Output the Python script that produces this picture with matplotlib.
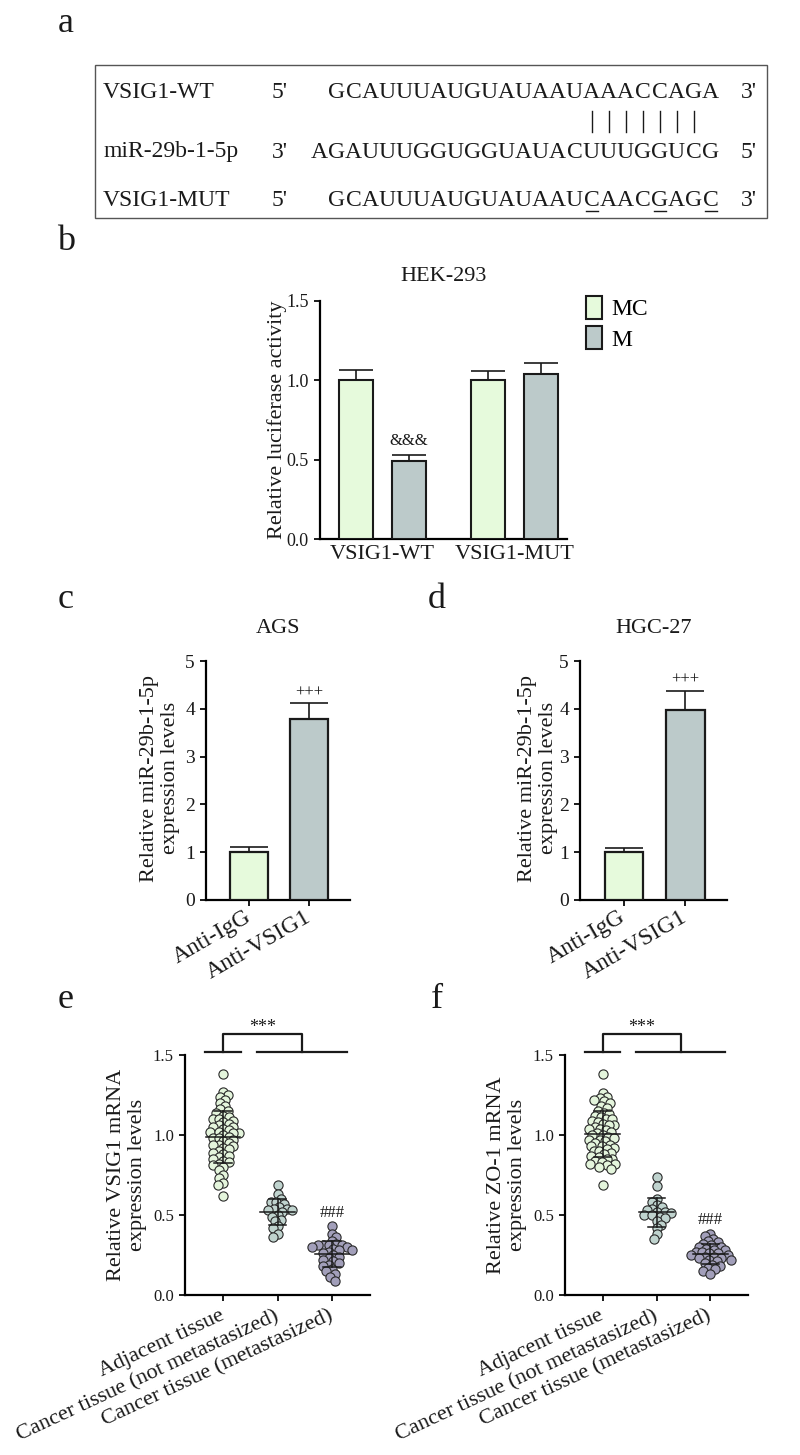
import numpy as np
import matplotlib.pyplot as plt
from matplotlib.patches import Patch, Rectangle

plt.rcParams['font.family'] = ['Liberation Serif', 'DejaVu Serif']

W, H = 800, 1455

# panel a
seq_names = ['VSIG1-WT', 'miR-29b-1-5p', 'VSIG1-MUT']
seq_left = ["5'", "3'", "5'"]
seq_right = ["3'", "5'", "3'"]
sequences = ['GCAUUUAUGUAUAAUAAACCAGA', 'AGAUUUGGUGGUAUACUUUGGUCG', 'GCAUUUAUGUAUAAUCAACGAGC']
mut_sites = [16, 20, 23]
pair_sites = [16, 17, 18, 19, 20, 21, 22]

# panel b
b_groups = ['VSIG1-WT', 'VSIG1-MUT']
b_series = ['MC', 'M']
b_mc = [1.0, 1.0]
b_mc_err = [0.065, 0.055]
b_m = [0.49, 1.04]
b_m_err = [0.04, 0.065]

# panels c, d
cd_groups = ['Anti-IgG', 'Anti-VSIG1']
c_vals = [1.0, 3.78]
c_err = [0.1, 0.35]
d_vals = [1.0, 3.98]
d_err = [0.09, 0.4]

# panels e, f
ef_groups = ['Adjacent tissue', 'Cancer tissue (not metastasized)', 'Cancer tissue (metastasized)']
e_adj = [1.38, 1.27, 1.25, 1.24, 1.22, 1.20, 1.18, 1.16, 1.15, 1.14, 1.12, 1.11, 1.10, 1.10,
         1.09, 1.08, 1.07, 1.06, 1.05, 1.05, 1.04, 1.03, 1.02, 1.02, 1.01, 1.01, 1.00, 0.99,
         0.98, 0.98, 0.97, 0.96, 0.95, 0.94, 0.94, 0.93, 0.92, 0.91, 0.90, 0.89, 0.88, 0.87,
         0.86, 0.85, 0.84, 0.83, 0.82, 0.81, 0.80, 0.78, 0.75, 0.73, 0.70, 0.69, 0.62]
e_nonmet = [0.69, 0.63, 0.60, 0.58, 0.58, 0.57, 0.55, 0.54, 0.54, 0.53, 0.53, 0.52, 0.50, 0.49,
            0.47, 0.46, 0.43, 0.42, 0.38, 0.36]
e_met = [0.43, 0.38, 0.36, 0.34, 0.32, 0.31, 0.31, 0.31, 0.31, 0.30, 0.30, 0.29, 0.28, 0.28,
         0.27, 0.26, 0.25, 0.24, 0.23, 0.22, 0.21, 0.20, 0.19, 0.18, 0.16, 0.15, 0.13, 0.11, 0.09]
f_adj = [1.38, 1.26, 1.24, 1.23, 1.22, 1.21, 1.20, 1.18, 1.17, 1.15, 1.14, 1.13, 1.12, 1.11,
         1.10, 1.10, 1.09, 1.08, 1.07, 1.06, 1.06, 1.05, 1.04, 1.04, 1.03, 1.02, 1.01, 1.00,
         1.00, 0.99, 0.98, 0.97, 0.97, 0.96, 0.95, 0.94, 0.93, 0.93, 0.92, 0.91, 0.90, 0.90,
         0.89, 0.88, 0.87, 0.86, 0.85, 0.85, 0.84, 0.83, 0.82, 0.82, 0.81, 0.80, 0.79, 0.69]
f_nonmet = [0.74, 0.68, 0.60, 0.58, 0.56, 0.55, 0.54, 0.53, 0.52, 0.52, 0.51, 0.50, 0.50, 0.49,
            0.48, 0.46, 0.44, 0.42, 0.38, 0.35]
f_met = [0.38, 0.37, 0.35, 0.34, 0.33, 0.32, 0.31, 0.30, 0.30, 0.29, 0.28, 0.28, 0.27, 0.27,
         0.26, 0.26, 0.25, 0.25, 0.24, 0.24, 0.23, 0.23, 0.22, 0.22, 0.21, 0.20, 0.19, 0.18,
         0.17, 0.16, 0.15, 0.13]

c_light = '#E6FADC'
c_gray = '#BCCACA'
scat_colors = ['#E4F5DC', '#BFD3CE', '#A29FBA']
ink = '#1a1a1a'


def px_rect(l, t, r, b):
    return [l / W, 1 - b / H, (r - l) / W, (b - t) / H]


def style_axes(ax, tick_size):
    for s in ['top', 'right']:
        ax.spines[s].set_visible(False)
    for s in ['left', 'bottom']:
        ax.spines[s].set_linewidth(1.6)
    ax.tick_params(width=1.4, length=4.5, labelsize=tick_size, colors=ink)
    ax.set_facecolor('none')


def swarm(vals, ypx, xpx, d=5.5):
    # simple beeswarm: nudge points sideways until they stop overlapping (in pixels)
    vals = np.asarray(vals)
    order = np.argsort(vals)[::-1]
    placed = []
    offs = np.zeros(len(vals))
    for k, i in enumerate(order):
        y = vals[i] * ypx
        sign = 1 if k % 2 == 0 else -1
        best = 0.0
        for c in np.arange(0, 80, 0.5):
            ok = None
            for s in ([0.0] if c == 0 else [sign * c, -sign * c]):
                if all((s - px) ** 2 + (y - py) ** 2 >= d * d for px, py in placed):
                    ok = s
                    break
            if ok is not None:
                best = ok
                break
        placed.append((best, y))
        offs[i] = best / xpx
    return offs


fig = plt.figure(figsize=(W / 100, H / 100), dpi=100)
ov = fig.add_axes([0, 0, 1, 1])
ov.set_xlim(0, W)
ov.set_ylim(H, 0)
ov.axis('off')

# panel letters
for lab, x, y in [('a', 66, 24), ('b', 66, 242), ('c', 66, 600), ('d', 437, 600),
                  ('e', 66, 1000), ('f', 437, 1000)]:
    ov.text(x, y, lab, fontsize=26, ha='center', va='center', color=ink)

# ---- panel a ----
ov.add_patch(Rectangle((95, 65), 672, 153, fill=False, edgecolor='#555555', lw=1.0))
rows_y = [93, 152, 200]
pitch = 17.0
seq_end = 719
for name, l5, r3, seq, y in zip(seq_names, seq_left, seq_right, sequences, rows_y):
    ov.text(103, y, name, fontsize=17, ha='left', va='center', color=ink)
    ov.text(272, y, l5, fontsize=17, ha='left', va='center', color=ink)
    ov.text(741, y, r3, fontsize=17, ha='left', va='center', color=ink)
    n = len(seq)
    for i, ch in enumerate(seq, start=1):
        cx = seq_end - pitch * (n - i) - pitch / 2
        ov.text(cx, y, ch, fontsize=17, ha='center', va='center', color=ink)
        if name == 'VSIG1-MUT' and i in mut_sites:
            ov.plot([cx - 6, cx + 6], [y + 11, y + 11], color=ink, lw=1.0)
n_wt = len(sequences[0])
for i in pair_sites:
    cx = seq_end - pitch * (n_wt - i) - pitch / 2
    ov.plot([cx, cx], [111, 132], color=ink, lw=1.0)

# ---- panel b ----
axb = fig.add_axes(px_rect(320, 300.7, 567, 539))
style_axes(axb, 13)
xb = np.arange(len(b_groups))
off, bw = 0.2, 0.26
axb.bar(xb - off, b_mc, bw, color=c_light, edgecolor=ink, lw=1.5, zorder=3)
axb.bar(xb + off, b_m, bw, color=c_gray, edgecolor=ink, lw=1.5, zorder=3)
axb.errorbar(xb - off, b_mc, yerr=[np.zeros(2), b_mc_err], fmt='none', ecolor=ink,
             elinewidth=1.2, capsize=12, capthick=1.2, zorder=2)
axb.errorbar(xb + off, b_m, yerr=[np.zeros(2), b_m_err], fmt='none', ecolor=ink,
             elinewidth=1.2, capsize=12, capthick=1.2, zorder=2)
axb.text(xb[0] + off, 0.62, '&&&', fontsize=12, ha='center', va='center', color=ink)
axb.set_xlim(-0.475, 1.40)
axb.set_ylim(0, 1.5)
axb.set_yticks([0, 0.5, 1.0, 1.5])
axb.set_yticklabels(['0.0', '0.5', '1.0', '1.5'])
axb.set_xticks(xb)
axb.set_xticklabels(b_groups, fontsize=16)
axb.tick_params(axis='x', length=0, pad=4)
axb.set_title('HEK-293', fontsize=16, pad=14, color=ink)
ov.text(277, 420, 'Relative luciferase activity', rotation=90, fontsize=16,
        ha='center', va='center', color=ink)
axb.legend(handles=[Patch(facecolor=c_light, edgecolor=ink, lw=1.5, label=b_series[0]),
                    Patch(facecolor=c_gray, edgecolor=ink, lw=1.5, label=b_series[1])],
           loc='upper left', bbox_to_anchor=(1.075, 1.02), frameon=False, fontsize=17,
           handlelength=0.7, handleheight=1.1, handletextpad=0.4, labelspacing=0.25,
           borderaxespad=0, borderpad=0)

# ---- panels c, d ----
for rect, vals, err, title, ylx, mark_y in [((206, 661, 350, 900), c_vals, c_err, 'AGS', 160, 4.34),
                                            ((580, 661, 727, 900), d_vals, d_err, 'HGC-27', 538, 4.6)]:
    ax = fig.add_axes(px_rect(*rect))
    style_axes(ax, 14)
    xc = np.arange(len(cd_groups))
    ax.bar(xc, vals, 0.63, color=[c_light, c_gray], edgecolor=ink, lw=1.6, zorder=3)
    ax.errorbar(xc, vals, yerr=[np.zeros(2), err], fmt='none', ecolor=ink,
                elinewidth=1.2, capsize=14, capthick=1.2, zorder=2)
    ax.text(xc[1], mark_y, '+++', fontsize=12, ha='center', va='center', color=ink)
    ax.set_xlim(-0.72, 1.68)
    ax.set_ylim(0, 5)
    ax.set_yticks(range(6))
    ax.set_xticks(xc)
    ax.set_xticklabels(cd_groups, fontsize=17, rotation=30, ha='right',
                       rotation_mode='anchor', va='center')
    ax.tick_params(axis='x', pad=7)
    ax.set_title(title, fontsize=16, pad=20, color=ink)
    ov.text(ylx, 778, 'Relative miR-29b-1-5p\nexpression levels', rotation=90, fontsize=16,
            ha='center', va='center', linespacing=1.1, color=ink)

# ---- panels e, f ----
for rect, groups, ylab, ylx, hash_y in [((185, 1055, 370, 1295), [e_adj, e_nonmet, e_met],
                                         'Relative VSIG1 mRNA\nexpression levels', 127, 0.51),
                                        ((565, 1055, 748, 1295), [f_adj, f_nonmet, f_met],
                                         'Relative ZO-1 mRNA\nexpression levels', 507, 0.47)]:
    ax = fig.add_axes(px_rect(*rect))
    style_axes(ax, 12)
    ax.set_xlim(-0.70, 2.70)
    ax.set_ylim(0, 1.5)
    ypx = (rect[3] - rect[1]) / 1.5
    xpx = (rect[2] - rect[0]) / 3.4
    for gi, (vals, col) in enumerate(zip(groups, scat_colors)):
        offs = swarm(vals, ypx, xpx)
        ax.scatter(gi + offs, vals, s=44, facecolor=col, edgecolor='#2a2a2a', lw=0.8,
                   zorder=3, clip_on=False)
        m, sd = np.mean(vals), np.std(vals, ddof=1)
        ax.plot([gi - 0.32, gi + 0.32], [m, m], color=ink, lw=1.1, zorder=4)
        ax.plot([gi, gi], [m - sd, m + sd], color=ink, lw=1.1, zorder=4)
        ax.plot([gi - 0.16, gi + 0.16], [m + sd, m + sd], color=ink, lw=1.1, zorder=4)
        ax.plot([gi - 0.16, gi + 0.16], [m - sd, m - sd], color=ink, lw=1.1, zorder=4)
    ax.text(2, hash_y, '###', fontsize=12, ha='center', va='center', color=ink)
    # significance bracket
    ax.plot([-0.33, 0.33], [1.52, 1.52], color=ink, lw=1.6, clip_on=False)
    ax.plot([0.62, 2.28], [1.52, 1.52], color=ink, lw=1.6, clip_on=False)
    ax.plot([0, 0, 1.45, 1.45], [1.52, 1.63, 1.63, 1.52], color=ink, lw=1.6, clip_on=False)
    ax.text(0.725, 1.675, '***', fontsize=13, ha='center', va='center', color=ink)
    ax.set_yticks([0, 0.5, 1.0, 1.5])
    ax.set_yticklabels(['0.0', '0.5', '1.0', '1.5'])
    ax.set_xticks(range(3))
    ax.set_xticklabels(ef_groups, fontsize=16, rotation=25, ha='right',
                       rotation_mode='anchor', va='center')
    ax.tick_params(axis='x', pad=10)
    ov.text(ylx, 1175, ylab, rotation=90, fontsize=16, ha='center', va='center',
            linespacing=1.1, color=ink)

fig.savefig('out.png', dpi=100, facecolor='white')
